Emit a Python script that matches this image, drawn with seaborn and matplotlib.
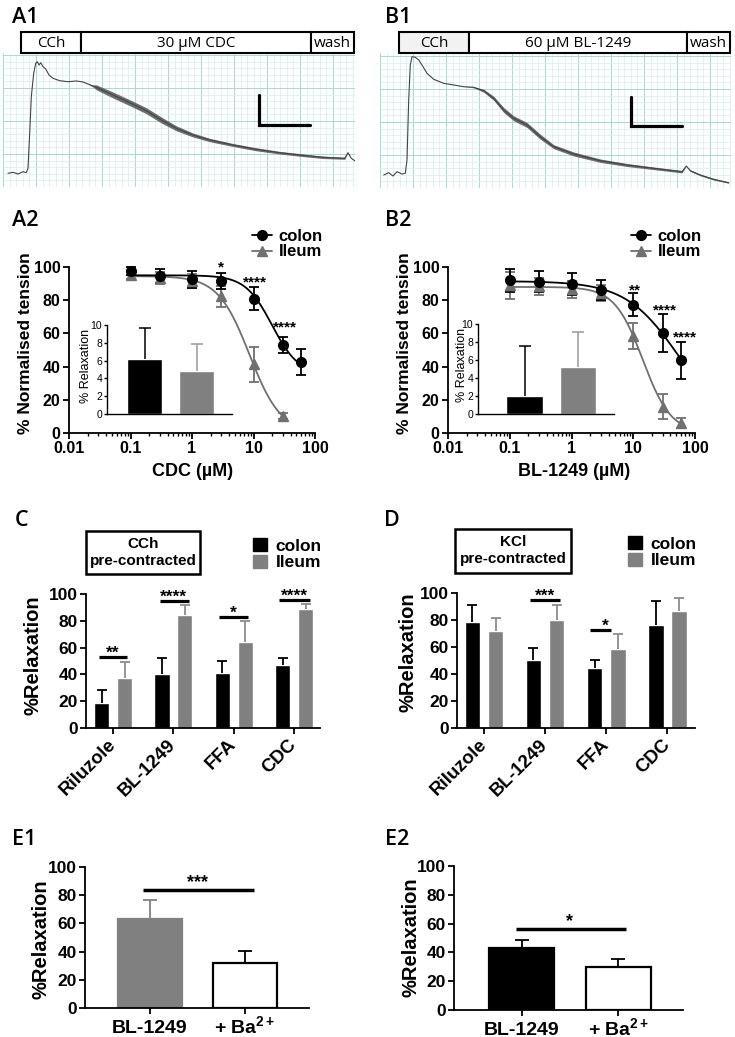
import numpy as np
import pandas as pd
import seaborn as sns
import matplotlib.pyplot as plt
from matplotlib.patches import Rectangle
from matplotlib.lines import Line2D
from matplotlib.ticker import MultipleLocator, LogLocator, NullFormatter

W, H = 735, 1037

# ---------------- data ----------------
# A1 / B1 : raw tension traces (time a.u., tension a.u.), ripple = half width of the fast oscillation band
a1_time = [5, 10, 15, 20, 23.3, 25, 26.7, 28.3, 30.7, 32.7, 34.3, 36, 37.7, 40, 42.7, 46, 50, 56.7, 65, 73.3,
           80, 85, 90, 93.3, 110, 126.7, 143.3, 158.3, 173.3, 190, 206.7, 230, 253.3, 276.7, 300, 320, 341.7,
           345, 348.3, 354]
a1_tension = [13.7, 14.7, 13, 15.3, 14.3, 18.7, 53.7, 90.3, 113.7, 123.7, 125.3, 122, 124.3, 120.3, 118, 112,
              108.7, 106.3, 105.3, 106, 105, 103, 101, 99.7, 92, 84.3, 76.3, 67, 58.7, 52, 47, 42, 37.7, 34.3,
              31.7, 29.7, 28.7, 34.3, 28.7, 24.7]
a1_ripple = [0] * 22 + [1, 2.5, 3, 3, 3, 3, 2.5, 2, 1.7, 1.5, 1.5, 1.3, 1.3, 1.2, 1, 0, 0, 0]

b1_time = [3.7, 8.7, 13, 17, 22, 25.3, 27, 28.7, 30.3, 32, 35.3, 38.7, 42, 47, 53.7, 63.7, 73.7, 83.7, 93.7,
           103.7, 113.7, 123.7, 133.7, 147, 160.3, 173.7, 193.7, 220.3, 247, 273.7, 302, 306.3, 310.3, 320.3,
           333.7, 348.7]
b1_tension = [13, 15.3, 12, 16.3, 14, 14.7, 28, 88, 123, 131.3, 130.7, 128, 123, 114.7, 108.7, 104.7, 103,
              101.3, 100.7, 97.3, 89.7, 78, 69.7, 63, 51.3, 41.3, 34, 27.3, 23, 19.7, 16.3, 22, 17.3, 13, 8.7, 5.3]
b1_ripple = [0] * 18 + [0.5, 1.5, 2, 2.5, 2.5, 2.5, 2.5, 2, 2, 1.7, 1.5, 1.3, 1.2, 0, 0.8, 0.8, 0.8, 0.6]

tissues = ['colon', 'Ileum']

# A2 / B2 : concentration-response (µM, % normalised tension, SEM)
conc = [0.1, 0.3, 1, 3, 10, 30, 60]
a2_colon = [97.6, 94.6, 92.6, 91.6, 80.9, 52.8, 42.8]
a2_colon_sem = [2.5, 4, 5, 5, 7, 4.8, 8]
a2_ileum = [95.0, 93.5, 91.5, 82.3, 41.4, 10.2]
a2_ileum_sem = [2.5, 3.5, 4, 6.5, 10.5, 2]
a2_colon_fit = (95, 35, 20, 2.0)      # top, bottom, IC50, Hill slope
a2_ileum_fit = (94.5, 0, 8.6, 1.7)
a2_inset = [6.2, 4.8]
a2_inset_sem = [3.5, 3.1]

b2_colon = [92.0, 91.2, 89.6, 86.3, 77.3, 60.2, 43.8]
b2_colon_sem = [7, 6.5, 6.5, 6, 7, 11.5, 11]
b2_ileum = [89.0, 88.4, 86.5, 84.3, 58.4, 15.7, 6.2]
b2_ileum_sem = [8, 5, 5, 5, 7.8, 7.5, 3]
b2_colon_fit = (91.5, 0, 56, 1.0)
b2_ileum_fit = (88, 0, 14.3, 1.9)
b2_inset = [2.0, 5.2]
b2_inset_sem = [5.6, 3.9]

# C / D : % relaxation
drugs = ['Riluzole', 'BL-1249', 'FFA', 'CDC']
c_colon = [19, 40, 41.3, 47]
c_colon_sem = [9.5, 12, 8.5, 5]
c_ileum = [37, 84.4, 63.9, 89]
c_ileum_sem = [12, 7.4, 15.6, 3.6]
d_colon = [78.3, 50.2, 44.6, 76.4]
d_colon_sem = [12.8, 8.7, 6.1, 17.4]
d_ileum = [71.7, 79.8, 58.6, 87]
d_ileum_sem = [9.8, 11.3, 11.1, 9]

# E1 / E2
e_groups = ['BL-1249', '+ Ba$^{2+}$']
e1_vals = [63.4, 31.9]
e1_sem = [13, 8.3]
e2_vals = [42.8, 29.9]
e2_sem = [5.8, 5.5]

# significance marks: (x0, x1, y, text, text_x)
c_sig = [(-0.23, 0.23, 53, '**', 0), (0.77, 1.26, 95, '****', 1), (1.75, 2.23, 83, '*', 2),
         (2.75, 3.27, 95.5, '****', 3)]
d_sig = [(0.76, 1.24, 95, '***', 1), (1.735, 2.08, 72.7, '*', 1.98)]
a2_stars = [(3, 97.6, '*'), (10.5, 88, '****'), (32, 61, '****')]
b2_stars = [(10.7, 83.7, '**'), (32.7, 71.7, '****'), (69, 55.4, '****')]

BLACK = 'black'
GREY = '#808080'
GREY_ERR = '#8c8c8c'
GREY_LINE = '#707070'

# ---------------- style ----------------
sns.set_style('ticks', {'axes.edgecolor': 'black', 'xtick.color': 'black', 'ytick.color': 'black',
                        'text.color': 'black', 'axes.labelcolor': 'black'})
plt.rcParams['font.family'] = ['Liberation Sans', 'DejaVu Sans']
plt.rcParams['font.weight'] = 'bold'
plt.rcParams['axes.labelweight'] = 'bold'
plt.rcParams['axes.linewidth'] = 1.3
plt.rcParams['mathtext.fontset'] = 'custom'
plt.rcParams['mathtext.rm'] = 'Liberation Sans:bold'
plt.rcParams['mathtext.it'] = 'Liberation Sans:bold'
plt.rcParams['mathtext.bf'] = 'Liberation Sans:bold'
LABEL_FONT = ['Open Sans', 'DejaVu Sans']

fig = plt.figure(figsize=(W / 100, H / 100), dpi=100)


def px(x0, y0, x1, y1):
    return [x0 / W, 1 - y1 / H, (x1 - x0) / W, (y1 - y0) / H]


def fx(x):
    return x / W


def fy(y):
    return 1 - y / H


def panel_label(x, y, s):
    fig.text(fx(x), fy(y), s, family=LABEL_FONT, weight='semibold', fontsize=15.5, va='baseline')


def upper_err(ax, x, h, e, color, lw=1.3, cap=3.5, z=2):
    # GraphPad style: only the upper half of the SEM bar
    eb = ax.errorbar(x, h, yerr=[[0], [e]], fmt='none', ecolor=color, elinewidth=lw, capsize=cap,
                     capthick=lw, zorder=z)
    eb[1][0].set_visible(False)


def header(x0, x1, y0, y1, divs, labels, fills):
    edges = [x0] + divs + [x1]
    for i, lab in enumerate(labels):
        a, b = edges[i], edges[i + 1]
        fig.add_artist(Rectangle((fx(a), fy(y1)), (b - a) / W, (y1 - y0) / H, transform=fig.transFigure,
                                 facecolor=fills[i], edgecolor='black', lw=1.5))
        fig.text(fx((a + b) / 2), fy((y0 + y1) / 2 + 1), lab, ha='center', va='center', family=LABEL_FONT,
                 weight='normal', fontsize=11)


def trace_panel(rect, t, T, ripple, xmax, ymax, bar):
    ax = fig.add_axes(rect)
    ax.set_xlim(0, xmax)
    ax.set_ylim(0, ymax)
    ax.xaxis.set_major_locator(MultipleLocator(33))
    ax.xaxis.set_minor_locator(MultipleLocator(6.6))
    ax.yaxis.set_major_locator(MultipleLocator(33))
    ax.yaxis.set_minor_locator(MultipleLocator(6.6))
    ax.grid(which='major', color='#a6d9d6', lw=0.7)
    ax.grid(which='minor', color='#d5eeec', lw=0.5)
    ax.tick_params(which='both', length=0, labelbottom=False, labelleft=False)
    for s in ax.spines.values():
        s.set_visible(False)
    t = np.array(t)
    T = np.array(T)
    r = np.array(ripple)
    ax.fill_between(t, T - r, T + r, color='#5e5e5e', lw=0, alpha=0.9)
    sns.lineplot(x=t, y=T, ax=ax, color='#444444', lw=0.8, estimator=None)
    bx, by0, by1, bx1 = bar
    ax.plot([bx, bx, bx1], [by0, by1, by1], color='black', lw=2.3, solid_joinstyle='miter')
    return ax


def hill(x, top, bottom, ic50, slope):
    return bottom + (top - bottom) / (1 + (x / ic50) ** slope)


def dose_panel(rect, colon, colon_sem, ileum, ileum_sem, colon_fit, ileum_fit, stars, xlabel, xlab_x, ylab_x):
    ax = fig.add_axes(rect)
    ax.set_xscale('log')
    series = [(conc[:len(ileum)], ileum, ileum_sem, ileum_fit, GREY_LINE, '^'),
              (conc, colon, colon_sem, colon_fit, BLACK, 'o')]
    for cx, vals, sem, fit, col, mk in series:
        xs = np.logspace(np.log10(cx[0]), np.log10(cx[-1]), 200)
        sns.lineplot(x=xs, y=hill(xs, *fit), color=col, lw=1.3, ax=ax)
        ax.errorbar(cx, vals, yerr=sem, fmt=mk, color=col, ms=7, capsize=3.5, elinewidth=1.3, capthick=1.3,
                    clip_on=False, zorder=3)
    for x, y, s in stars:
        ax.text(x, y, s, ha='center', va='baseline', fontsize=11)
    ax.set_xlim(0.01, 100)
    ax.set_ylim(0, 100)
    ax.set_xticks([0.01, 0.1, 1, 10, 100])
    ax.set_xticklabels(['0.01', '0.1', '1', '10', '100'])
    ax.xaxis.set_minor_locator(LogLocator(base=10, subs=np.arange(2, 10), numticks=20))
    ax.xaxis.set_minor_formatter(NullFormatter())
    ax.set_yticks(range(0, 101, 20))
    sns.despine(ax=ax)
    ax.tick_params(which='major', length=4, width=1.3, labelsize=11.5, pad=2)
    ax.tick_params(which='minor', length=2.5, width=1)
    ax.set_xlabel(xlabel, fontsize=13)
    ax.xaxis.set_label_coords(xlab_x, -0.18)
    ax.xaxis.label.set_va('top')
    ax.set_ylabel('% Normalised tension', fontsize=12.5)
    ax.yaxis.set_label_coords(ylab_x, 0.54)
    return ax


def inset_panel(rect, vals, sem, xlim, ylab_x):
    ax = fig.add_axes(rect)
    ax.patch.set_alpha(0)
    sns.barplot(x=tissues, y=vals, hue=tissues, palette=[BLACK, GREY], width=0.68, saturation=1,
                errorbar=None, legend=False, ax=ax)
    for bar, e, ec in zip(ax.patches, sem, [BLACK, '#9a9a9a']):
        upper_err(ax, bar.get_x() + bar.get_width() / 2, bar.get_height(), e, ec, lw=1.1, cap=4)
    ax.set_xlim(*xlim)
    ax.set_ylim(0, 10)
    ax.set_yticks(range(0, 11, 2))
    ax.set_xticks([])
    sns.despine(ax=ax)
    for s in ax.spines.values():
        s.set_linewidth(1)
    ax.tick_params(axis='y', length=2.5, width=1, labelsize=7.5, pad=1)
    for lab in ax.get_yticklabels():
        lab.set_fontweight('normal')
    ax.set_ylabel('% Relaxation', fontsize=9, fontweight='normal')
    ax.yaxis.set_label_coords(ylab_x, 0.54)
    return ax


def legend_lines(x, y):
    handles = [Line2D([], [], color=BLACK, marker='o', ms=7, lw=1.3),
               Line2D([], [], color=GREY_LINE, marker='^', ms=7, lw=1.3)]
    fig.legend(handles, tissues, loc='upper left', bbox_to_anchor=(fx(x), fy(y)), frameon=False,
               fontsize=12, handlelength=1.2, handletextpad=0.4, labelspacing=0.02, borderpad=0,
               borderaxespad=0)


def legend_boxes(x, y):
    handles = [Rectangle((0, 0), 1, 1, color=BLACK), Rectangle((0, 0), 1, 1, color=GREY)]
    fig.legend(handles, tissues, loc='upper left', bbox_to_anchor=(fx(x), fy(y)), frameon=False,
               fontsize=12.5, handlelength=0.8, handleheight=0.8, handletextpad=0.5, labelspacing=0.05,
               borderpad=0, borderaxespad=0)


def cond_box(x0, y0, x1, y1, line1):
    fig.add_artist(Rectangle((fx(x0), fy(y1)), (x1 - x0) / W, (y1 - y0) / H, transform=fig.transFigure,
                             facecolor='white', edgecolor='black', lw=1.8))
    fig.text(fx((x0 + x1) / 2), fy(y0 + 13), line1, ha='center', va='center', fontsize=11)
    fig.text(fx((x0 + x1) / 2), fy(y0 + 30), 'pre-contracted', ha='center', va='center', fontsize=11)


def bar_panel(rect, colon, colon_sem, ileum, ileum_sem, xlim, sig, ylab_x, ylab_y):
    ax = fig.add_axes(rect)
    df = pd.DataFrame({'drug': drugs * 2,
                       'tissue': [tissues[0]] * len(drugs) + [tissues[1]] * len(drugs),
                       'value': colon + ileum})
    sns.barplot(data=df, x='drug', y='value', hue='tissue', palette=[BLACK, GREY], width=0.76, gap=0.34,
                errorbar=None, saturation=1, legend=False, ax=ax)
    for cont, sem, ec in zip(ax.containers, [colon_sem, ileum_sem], [BLACK, GREY_ERR]):
        for bar, e in zip(cont, sem):
            upper_err(ax, bar.get_x() + bar.get_width() / 2, bar.get_height(), e, ec)
    for x0, x1, y, s, xs in sig:
        ax.plot([x0, x1], [y, y], color='black', lw=2.3, solid_capstyle='butt', clip_on=False)
        ax.text(xs, y - 0.5, s, ha='center', va='baseline', fontsize=12.5)
    ax.set_xlim(*xlim)
    ax.set_ylim(0, 100)
    ax.set_yticks(range(0, 101, 20))
    sns.despine(ax=ax)
    ax.tick_params(length=4, width=1.3, labelsize=12.5, pad=2)
    ax.tick_params(axis='x', labelsize=13.5, pad=6)
    for lab in ax.get_xticklabels():
        lab.set_rotation(45)
        lab.set_ha('right')
        lab.set_va('center')
        lab.set_rotation_mode('anchor')
    ax.set_xlabel('')
    ax.set_ylabel('%Relaxation', fontsize=14.5)
    ax.yaxis.set_label_coords(ylab_x, ylab_y)
    return ax


def e_panel(rect, vals, sem, fills, edges, errc, xlim, sig, ylab_x, ylab_y):
    ax = fig.add_axes(rect)
    sns.barplot(x=e_groups, y=vals, hue=e_groups, palette=fills, width=0.67, saturation=1, errorbar=None,
                legend=False, ax=ax)
    for bar, ec, e, c in zip(ax.patches, edges, sem, errc):
        bar.set_edgecolor(ec)
        bar.set_linewidth(1.6)
        upper_err(ax, bar.get_x() + bar.get_width() / 2, bar.get_height(), e, c, cap=5, z=0.5)
    x0, x1, y, s, xs = sig
    ax.plot([x0, x1], [y, y], color='black', lw=2.5, solid_capstyle='butt')
    ax.text(xs, y + 2, s, ha='center', va='baseline', fontsize=13)
    ax.set_xlim(*xlim)
    ax.set_ylim(0, 100)
    ax.set_yticks(range(0, 101, 20))
    sns.despine(ax=ax)
    ax.tick_params(length=4, width=1.3, labelsize=12.5, pad=2)
    ax.tick_params(axis='x', labelsize=14, pad=14)
    for lab in ax.get_xticklabels():
        lab.set_va('baseline')
    ax.set_ylabel('%Relaxation', fontsize=14.5)
    ax.yaxis.set_label_coords(ylab_x, ylab_y)
    return ax


# ---------------- A1 / B1 ----------------
panel_label(12, 23, 'A1')
panel_label(385, 23, 'B1')
header(21, 354, 32, 53, [81, 311], ['CCh', '30 µM CDC', 'wash'], ['white', 'white', 'white'])
header(399, 730, 32, 53, [469, 687], ['CCh', '60 µM BL-1249', 'wash'], ['#f2f2f2', 'white', 'white'])
trace_panel(px(3, 53, 355, 187), a1_time, a1_tension, a1_ripple, 352, 134, (256, 92, 62, 307))
trace_panel(px(380, 53, 731, 188), b1_time, b1_tension, b1_ripple, 351, 135, (251, 91, 62, 302))

# ---------------- A2 / B2 ----------------
panel_label(12, 226, 'A2')
panel_label(385, 226, 'B2')
dose_panel(px(69, 267, 315, 433), a2_colon, a2_colon_sem, a2_ileum, a2_ileum_sem, a2_colon_fit, a2_ileum_fit,
           a2_stars, 'CDC (µM)', 0.504, -0.146)
dose_panel(px(448, 267, 695, 433), b2_colon, b2_colon_sem, b2_ileum, b2_ileum_sem, b2_colon_fit, b2_ileum_fit,
           b2_stars, 'BL-1249 (µM)', 0.51, -0.146)
inset_panel(px(107, 325, 232, 414), a2_inset, a2_inset_sem, (-0.72, 1.68), -0.12)
inset_panel(px(478, 324, 614, 414), b2_inset, b2_inset_sem, (-0.87, 1.67), -0.07)
legend_lines(252, 229)
legend_lines(631, 229)

# ---------------- C / D ----------------
panel_label(15, 526, 'C')
panel_label(384, 526, 'D')
cond_box(86, 531, 200, 574, 'CCh')
cond_box(455, 529, 571, 573, 'KCl')
legend_boxes(253, 538)
legend_boxes(628, 536)
bar_panel(px(86, 594, 320, 728), c_colon, c_colon_sem, c_ileum, c_ileum_sem, (-0.45, 3.43), c_sig,
          -0.184, 0.545)
bar_panel(px(457, 593, 695, 728), d_colon, d_colon_sem, d_ileum, d_ileum_sem, (-0.44, 3.45), d_sig,
          -0.168, 0.565)

# ---------------- E1 / E2 ----------------
panel_label(12, 845, 'E1')
panel_label(385, 845, 'E2')
e_panel(px(85, 867, 309, 1008), e1_vals, e1_sem, [GREY, 'white'], [GREY, BLACK], [GREY, BLACK],
        (-0.684, 1.674), (-0.074, 1.09, 83.5, '***', 0.505), -0.156, 0.49)
e_panel(px(454, 866, 683, 1010), e2_vals, e2_sem, [BLACK, 'white'], [BLACK, BLACK], [BLACK, BLACK],
        (-0.70, 1.67), (-0.06, 1.08, 56.3, '*', 0.5), -0.148, 0.507)

fig.savefig('out.png', dpi=100)
